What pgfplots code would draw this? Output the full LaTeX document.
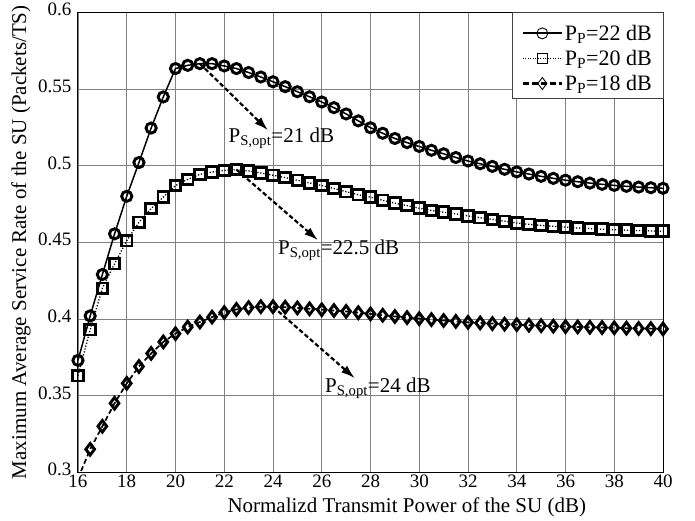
\documentclass[border=0pt]{standalone}
\usepackage{fontspec}
\setmainfont{Liberation Serif}
\usepackage{pgfplots}
\pgfplotsset{compat=1.18}
\usepackage{pgfplotstable}
\usetikzlibrary{arrows.meta}

\pgfplotstableread{
x y
16 0.373
16.5 0.402
17 0.429
17.5 0.4555
18 0.480
18.5 0.502
19 0.5245
19.5 0.5448
20 0.5633
20.5 0.5654
21 0.5665
21.5 0.5665
22 0.5650
22.5 0.5633
23 0.5607
23.5 0.5578
24 0.5547
24.5 0.5515
25 0.5482
25.5 0.5449
26 0.5415
26.5 0.5378
27 0.5337
27.5 0.5292
28 0.5247
28.5 0.5211
29 0.5177
29.5 0.5150
30 0.5125
30.5 0.5100
31 0.5077
31.5 0.5053
32 0.5030
32.5 0.5012
33 0.4995
33.5 0.4976
34 0.4959
34.5 0.4945
35 0.4930
35.5 0.4917
36 0.4905
36.5 0.4895
37 0.4886
37.5 0.4878
38 0.4871
38.5 0.4865
39 0.4860
39.5 0.4856
40 0.4852
}\tabA

\pgfplotstableread{
x y
16 0.363
16.5 0.393
17 0.420
17.5 0.436
18 0.451
18.5 0.463
19 0.472
19.5 0.4795
20 0.4870
20.5 0.4910
21 0.4943
21.5 0.4958
22 0.4969
22.5 0.4974
23 0.4965
23.5 0.4952
24 0.4937
24.5 0.4922
25 0.4904
25.5 0.4887
26 0.4870
26.5 0.4851
27 0.4830
27.5 0.4810
28 0.4794
28.5 0.4774
29 0.4755
29.5 0.4739
30 0.4722
30.5 0.4708
31 0.4696
31.5 0.4685
32 0.4672
32.5 0.4660
33 0.4649
33.5 0.4637
34 0.4626
34.5 0.4617
35 0.4610
35.5 0.4604
36 0.4599
36.5 0.4593
37 0.4589
37.5 0.4585
38 0.4582
38.5 0.4579
39 0.4577
39.5 0.4574
40 0.4572
}\tabB

\pgfplotstableread{
x y
16 0.296
16.5 0.315
17 0.330
17.5 0.345
18 0.358
18.5 0.369
19 0.3775
19.5 0.385
20 0.3904
20.5 0.3947
21 0.3980
21.5 0.4012
22 0.4042
22.5 0.4062
23 0.4074
23.5 0.4080
24 0.4080
24.5 0.4077
25 0.4072
25.5 0.4066
26 0.4060
26.5 0.4055
27 0.4049
27.5 0.4041
28 0.4033
28.5 0.4024
29 0.4016
29.5 0.4009
30 0.4002
30.5 0.3996
31 0.3990
31.5 0.3984
32 0.3978
32.5 0.3974
33 0.3970
33.5 0.3966
34 0.3963
34.5 0.3959
35 0.3956
35.5 0.3953
36 0.3950
36.5 0.3948
37 0.3946
37.5 0.3944
38 0.3942
38.5 0.3940
39 0.3938
39.5 0.3937
40 0.3935
}\tabC

\begin{document}
\begin{tikzpicture}
\begin{axis}[
  scale only axis, width=585pt, height=460pt,
  xmin=16, xmax=40, ymin=0.3, ymax=0.6,
  xtick={16,18,...,40},
  ytick={0.3,0.35,0.4,0.45,0.5,0.55,0.6},
  yticklabels={0.3,0.35,0.4,0.45,0.5,0.55,0.6},
  grid=major,
  major grid style={black!50, line width=0.8pt},
  major tick length=0pt,
  axis line style={black, line width=1pt},
  tick label style={font=\fontsize{19}{22}\selectfont},
  xticklabel style={yshift=0.5pt},
  yticklabel style={yshift=2.5pt, xshift=-3pt},
  /pgf/number format/assume math mode=true,
  xlabel={Normalizd Transmit Power of the SU (dB)},
  ylabel={Maximum Average Service Rate of the SU (Packets/TS)},
  label style={font=\fontsize{21}{24}\selectfont},
  xlabel style={at={(axis description cs:0.562,-0.076)}, anchor=center},
  ylabel style={at={(axis description cs:-0.0974,0.5)}, anchor=center},
  clip mode=individual,
  legend style={at={(axis description cs:1,0.988)}, anchor=north east, draw=none,
    fill=none, font=\fontsize{22}{25}\selectfont, inner xsep=9pt, inner ysep=5pt,
    row sep=4.3pt, nodes={inner sep=2pt}},
  legend cell align=left,
  legend image code/.code={\draw[mark repeat=2,mark phase=2,#1] plot coordinates {(0pt,0pt) (19.5pt,0pt) (39pt,0pt)};},
]
\addplot[black, line width=1.5pt, mark=o, mark size=5.1pt, mark options={solid, line width=2.9pt}, forget plot] table[x=x,y=y] {\tabA};
\addplot[black, line width=1.3pt, dash pattern=on 1.2pt off 1.8pt, mark=square, mark size=5.3pt, mark options={solid, line width=2.9pt}, forget plot] table[x=x,y=y] {\tabB};
\addplot[black, line width=1.7pt, dash pattern=on 5pt off 3pt, mark=diamond, mark size=5.8pt, mark indices={1,...,48}, mark options={solid, line width=2.9pt}, forget plot] table[x=x,y=y] {\tabC};

\addlegendimage{black, line width=1.8pt, mark=o, mark size=5.5pt, mark options={solid, line width=0.9pt}}
\addlegendentry{P\textsubscript{P}=22 dB}
\addlegendimage{black, line width=1pt, dash pattern=on 1pt off 1.5pt, mark=square, mark size=5pt, mark options={solid, line width=0.9pt}}
\addlegendentry{P\textsubscript{P}=20 dB}
\addlegendimage{black, line width=2.2pt, dash pattern=on 6pt off 3pt, mark=diamond, mark size=6pt, mark options={solid, line width=0.9pt}}
\addlegendentry{P\textsubscript{P}=18 dB}

\draw[black!75, line width=0.8pt, fill=white] (rel axis cs:0.7419,0.8130) rectangle (rel axis cs:1,1);

\draw[black, line width=2.2pt, dash pattern=on 4.5pt off 2.5pt, -{Latex[length=14pt, width=9pt]}] (axis cs:21,0.5665) -- (axis cs:23.8,0.523);
\draw[black, line width=2.2pt, dash pattern=on 4.5pt off 2.5pt, -{Latex[length=14pt, width=9pt]}] (axis cs:22.5,0.4974) -- (axis cs:25.85,0.4513);
\draw[black, line width=2.2pt, dash pattern=on 4.5pt off 2.5pt, -{Latex[length=14pt, width=9pt]}] (axis cs:24,0.408) -- (axis cs:27.36,0.3613);

\node[anchor=base west, inner sep=0pt, font=\fontsize{21}{24}\selectfont] at (axis cs:22.17,0.5154) {P\textsubscript{S,opt}=21 dB};
\node[anchor=base west, inner sep=0pt, font=\fontsize{21}{24}\selectfont] at (axis cs:24.2,0.4421) {P\textsubscript{S,opt}=22.5 dB};
\node[anchor=base west, inner sep=0pt, font=\fontsize{21}{24}\selectfont] at (axis cs:26.13,0.3521) {P\textsubscript{S,opt}=24 dB};

\coordinate (LL) at (rel axis cs:0,0);
\end{axis}
\path (LL) ++(-78pt,-47pt) rectangle ++(695pt,519pt);
\end{tikzpicture}
\end{document}
